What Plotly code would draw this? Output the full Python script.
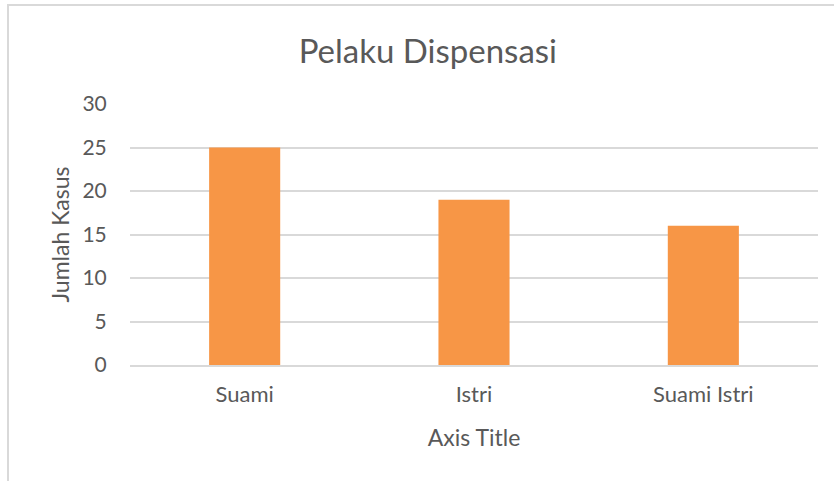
import plotly.graph_objects as go

categories = ["Suami", "Istri", "Suami Istri"]
values = [25, 19, 16]
y_ticks = [0, 5, 10, 15, 20, 25, 30]

FONT = "Lato"
TXT = "#595959"

fig = go.Figure(go.Bar(
    x=categories, y=values,
    marker=dict(color="#F79646", line=dict(width=0)),
    width=0.31,
))

fig.update_layout(
    width=834, height=481,
    margin=dict(l=130, r=16, t=104, b=116),
    paper_bgcolor="white", plot_bgcolor="white",
    font=dict(family=FONT, color=TXT, size=20),
    showlegend=False,
    title=dict(text="Pelaku Dispensasi", x=0.513, xanchor="center",
               y=0.892, yanchor="middle",
               font=dict(family=FONT, size=33, color=TXT)),
    xaxis=dict(
        showgrid=False, showline=True, linecolor="#d9d9d9", linewidth=1.5,
        ticks="outside", ticklen=9, tickcolor="rgba(0,0,0,0)",
        tickfont=dict(family=FONT, size=22, color=TXT),
        title=dict(text="Axis Title", font=dict(family=FONT, size=23, color=TXT), standoff=24),
    ),
    yaxis=dict(
        range=[0, 30], tickvals=y_ticks,
        showgrid=True, gridcolor="#d9d9d9", gridwidth=1.5,
        zeroline=False, showline=False,
        ticks="outside", ticklen=18, tickcolor="rgba(0,0,0,0)",
        tickfont=dict(family=FONT, size=21, color=TXT),
        title=dict(text="Jumlah Kasus", font=dict(family=FONT, size=23, color=TXT), standoff=6),
    ),
    shapes=[dict(type="rect", xref="paper", yref="paper",
                 x0=-0.1773, x1=1.2, y0=-1.0, y1=1.379,
                 line=dict(color="#d9d9d9", width=2), fillcolor="rgba(0,0,0,0)", layer="below")],
)

fig.write_html("out.html", config={"displayModeBar": False},
               post_script="document.body.style.margin='0';")
